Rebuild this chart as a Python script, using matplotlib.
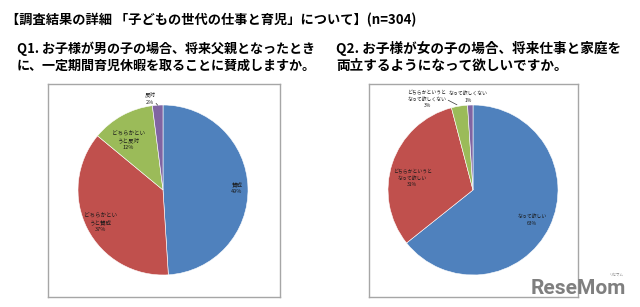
import numpy as np
import matplotlib
matplotlib.use('Agg')
import matplotlib.pyplot as plt

plt.rcParams['font.family'] = ['Noto Sans CJK JP', 'DejaVu Sans']

# データ
q1_labels = ['賛成', 'どちらかとい\nうと賛成', 'どちらかとい\nうと反対', '反対']
q1_values = [49, 37, 12, 2]
q2_labels = ['なって欲しい', 'どちらかというと\nなって欲しい', 'どちらかというと\nなって欲しくない', 'なって欲しくない']
q2_values = [63, 31, 3, 1]
colors = ['#4F81BD', '#C0504D', '#9BBB59', '#8064A2']

# ラベル位置 (中心からの距離, 角度の補正)
q1_dist = [0.87, 0.83, 0.72, 1.09]
q1_dang = [0, 0, 6, 4.4]
q2_dist = [0.78, 0.73, 1.20, 1.10]
q2_dang = [-1, 7, 17.6, 1]

W, H = 640, 307
fig = plt.figure(figsize=(6.4, 3.07), dpi=100)
fig.patch.set_facecolor('white')

fig.text(6 / W, 1 - 20 / H, '【調査結果の詳細 「子どもの世代の仕事と育児」について】(n=304)',
         fontsize=9.5, fontweight='bold', va='center', ha='left')
fig.text(17 / W, 1 - 57 / H, 'Q1. お子様が男の子の場合、将来父親となったとき\nに、一定期間育児休暇を取ることに賛成しますか。',
         fontsize=9.4, fontweight='bold', va='center', ha='left', linespacing=1.25)
fig.text(336 / W, 1 - 57 / H, 'Q2. お子様が女の子の場合、将来仕事と家庭を\n両立するようになって欲しいですか。',
         fontsize=9.8, fontweight='bold', va='center', ha='left', linespacing=1.2)


def draw(frame_px, pie_px, values, labels, dist, dang, leader, fs):
    fx, fy, fw, fh = frame_px
    fr = fig.add_axes([fx / W, 1 - (fy + fh) / H, fw / W, fh / H])
    fr.set_xticks([])
    fr.set_yticks([])
    for s in fr.spines.values():
        s.set_color('#a6a6a6')
        s.set_linewidth(1.0)

    cx, cy, r = pie_px
    ax = fig.add_axes([(cx - r) / W, 1 - (cy + r) / H, 2 * r / W, 2 * r / H])
    wedges, _ = ax.pie(values, colors=colors, startangle=90, counterclock=False,
                       wedgeprops=dict(edgecolor='white', linewidth=0.4))
    ax.set_xlim(-1, 1)
    ax.set_ylim(-1, 1)
    ax.set_aspect('equal')
    ax.axis('off')

    for i, (w, lab, v) in enumerate(zip(wedges, labels, values)):
        mid = np.deg2rad((w.theta1 + w.theta2) / 2 + dang[i])
        x, y = dist[i] * np.cos(mid), dist[i] * np.sin(mid)
        txt = lab + '\n' + str(v) + '%'
        ax.text(x, y, txt, fontsize=fs, ha='center', va='center', linespacing=1.45,
                color='#1a1a1a')
        if leader[i]:
            m0 = np.deg2rad((w.theta1 + w.theta2) / 2)
            ax.annotate('', xy=(1.0 * np.cos(m0), 1.0 * np.sin(m0)),
                        xytext=leader[i](x, y),
                        arrowprops=dict(arrowstyle='-', color='#333333', lw=0.5))


draw((48, 84, 232, 213), (163, 190, 85), q1_values, q1_labels, q1_dist, q1_dang,
     [None, None, None, lambda x, y: (x + 0.07, y - 0.06)], 4.0)
draw((369, 84, 209, 213), (473, 190, 85), q2_values, q2_labels, q2_dist, q2_dang,
     [None, None, lambda x, y: (x + 0.22, y + 0.0), None], 3.5)

# ロゴ
fig.text(578 / W, 1 - 289 / H, 'ReseMom', fontsize=15, fontweight='bold',
         color='#7f7f7f', ha='center', va='center', family='Roboto')
fig.text(616 / W, 1 - 275 / H, 'リセマム', fontsize=2.5, color='#7f7f7f',
         ha='center', va='center')

fig.savefig('out.png', dpi=100, facecolor='white')
